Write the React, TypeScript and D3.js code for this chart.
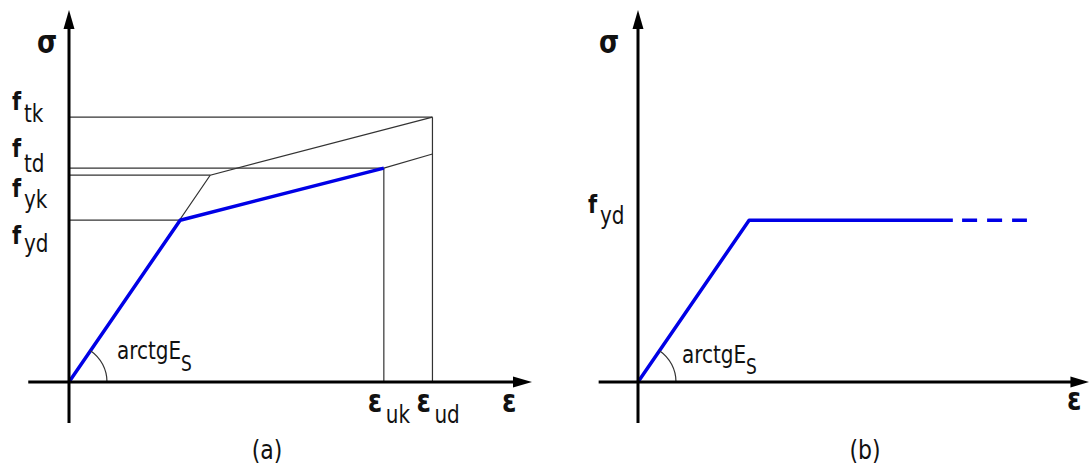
import React from 'react';
import * as d3 from 'd3';

// values (strain in ‰-like units, stress in MPa-like units)
const charStrain = [0, 3.05, 7.85];
const charStress = [0, 556, 712];
const designStrain = [0, 2.4, 6.8];
const designStress = [0, 435, 575];
const designExtStrain = [6.8, 7.85];
const designExtStress = [575, 613];

const stressSubs = ['tk', 'td', 'yk', 'yd'];
const stressValues = [712, 575, 556, 435];
const stressGuideEnds = [7.85, 6.8, 3.05, 2.4];
const stressLabelBase = [110, 157, 197, 244];
const stressSubBase = [122, 172, 208, 252];

const strainSubs = ['uk', 'ud'];
const strainValues = [6.8, 7.85];
const strainGuideTops = [575, 712];

const plasticStrain = [0, 2.4, 6.8];
const plasticStress = [0, 435, 435];
const plasticDashStrain = [7.0, 8.4];

const W = 1089;
const H = 467;
const FONT = 'DejaVu Sans';
const SY = 1.2;
const BLUE = '#0000e6';
const INK = '#333';

const y = d3.scaleLinear().domain([0, 1000]).range([382, 10]);
const xL = d3.scaleLinear().domain([0, 10]).range([69, 532]);
const xR = d3.scaleLinear().domain([0, 10]).range([638, 1101]);

const T = ({ x, yy, size, bold, children, anchor }: any) => (
  <text
    transform={`translate(${x},${yy}) scale(1,${SY})`}
    fontFamily={FONT}
    fontSize={size}
    fontWeight={bold ? 'bold' : 'normal'}
    textAnchor={anchor || 'start'}
    fill="#111"
  >
    {children}
  </text>
);

function Axes({ x, xMin, xMax }: any) {
  const ox = x(0);
  const oy = y(0);
  const top = y(1000);
  const right = x(xMax);
  return (
    <g>
      <line x1={x(xMin)} y1={oy} x2={right - 12} y2={oy} stroke="#000" strokeWidth={3} />
      <line x1={ox} y1={y(-110)} x2={ox} y2={top + 12} stroke="#000" strokeWidth={3} />
      <path d={`M${right},${oy} L${right - 19},${oy - 5.5} L${right - 19},${oy + 5.5} Z`} fill="#000" />
      <path d={`M${ox},${top} L${ox - 5.5},${top + 19} L${ox + 5.5},${top + 19} Z`} fill="#000" />
    </g>
  );
}

function angleArc(x: any, sx: number, sy: number) {
  const ox = x(0);
  const oy = y(0);
  const a = Math.atan2(y(sy) - oy, x(sx) - ox);
  const r = 38;
  const p = d3.path();
  p.moveTo(ox + r, oy);
  p.arc(ox, oy, r, 0, a, true);
  return p.toString();
}

const path = (x: any, xs: number[], ys: number[]) =>
  d3.line<number>()
    .x((d) => x(d))
    .y((_, i) => y(ys[i]))(xs) as string;

export default function App() {
  return (
    <svg width={W} height={H} style={{ position: 'absolute', left: 0, top: 0, background: '#fff' }}>
      {/* panel (a) */}
      {stressValues.map((v, i) => (
        <line key={'h' + i} x1={xL(0)} x2={xL(stressGuideEnds[i])} y1={y(v)} y2={y(v)} stroke={INK} strokeWidth={1.2} />
      ))}
      {strainValues.map((v, i) => (
        <line key={'v' + i} x1={xL(v)} x2={xL(v)} y1={y(0)} y2={y(strainGuideTops[i])} stroke={INK} strokeWidth={1.2} />
      ))}
      <path d={path(xL, charStrain, charStress)} fill="none" stroke={INK} strokeWidth={1.2} />
      <path d={path(xL, designExtStrain, designExtStress)} fill="none" stroke={INK} strokeWidth={1.2} />
      <path d={path(xL, designStrain, designStress)} fill="none" stroke={BLUE} strokeWidth={3.5} strokeLinejoin="round" />
      <path d={angleArc(xL, designStrain[1], designStress[1])} fill="none" stroke={INK} strokeWidth={1.2} />
      <Axes x={xL} xMin={-0.88} xMax={10} />

      <T x={37} yy={53} size={26} bold>σ</T>
      {stressSubs.map((s, i) => (
        <g key={'sl' + i}>
          <T x={12} yy={stressLabelBase[i]} size={21} bold>f</T>
          <T x={24} yy={stressSubBase[i]} size={20}>{s}</T>
        </g>
      ))}
      {strainSubs.map((s, i) => (
        <g key={'el' + i}>
          <T x={xL(strainValues[i]) - 16} yy={412} size={26} bold>ε</T>
          <T x={xL(strainValues[i]) + 2} yy={423} size={20}>{s}</T>
        </g>
      ))}
      <T x={502} yy={412} size={26} bold>ε</T>
      <T x={117} yy={359} size={20}>arctgE</T>
      <T x={181} yy={371} size={17}>S</T>
      <T x={267} yy={459} size={22} anchor="middle">(a)</T>

      {/* panel (b) */}
      <path d={path(xR, plasticStrain, plasticStress)} fill="none" stroke={BLUE} strokeWidth={3.5} strokeLinejoin="round" />
      <path
        d={path(xR, plasticDashStrain, [plasticStress[2], plasticStress[2]])}
        fill="none"
        stroke={BLUE}
        strokeWidth={3.5}
        strokeDasharray="15,10"
      />
      <path d={angleArc(xR, plasticStrain[1], plasticStress[1])} fill="none" stroke={INK} strokeWidth={1.2} />
      <Axes x={xR} xMin={-0.85} xMax={9.75} />

      <T x={599} yy={53} size={26} bold>σ</T>
      <T x={588} yy={213} size={21} bold>f</T>
      <T x={600} yy={224} size={20}>yd</T>
      <T x={1067} yy={410} size={26} bold>ε</T>
      <T x={682} yy={363} size={20}>arctgE</T>
      <T x={746} yy={374} size={17}>S</T>
      <T x={865} yy={459} size={22} anchor="middle">(b)</T>
    </svg>
  );
}
